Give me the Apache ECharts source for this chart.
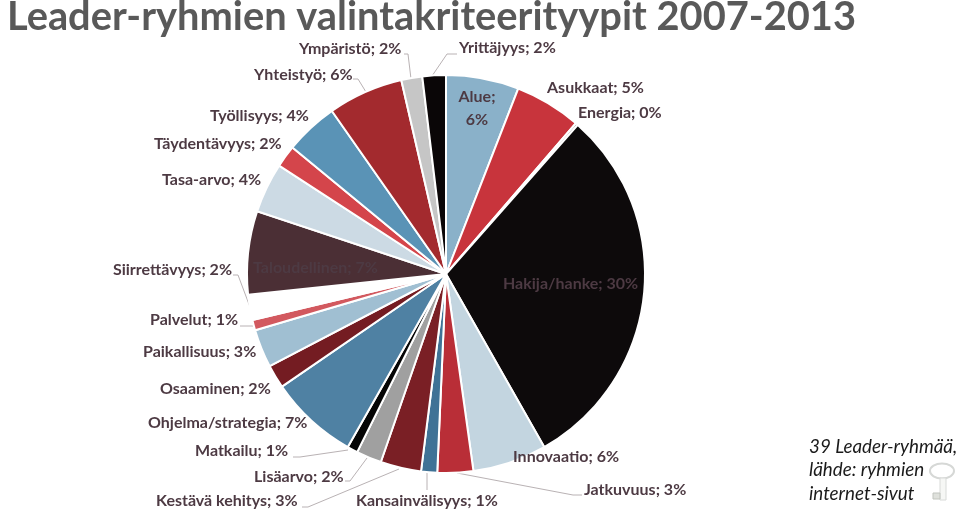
<!DOCTYPE html>
<html>
<head>
<meta charset="utf-8">
<style>
  html, body { margin: 0; padding: 0; background: #fff; }
  #chart { width: 959px; height: 513px; }
</style>
</head>
<body>
<div id="chart"></div>
<script src="https://cdn.jsdelivr.net/npm/echarts@6/dist/echarts.min.js"></script>
<script>
const categories = ['Alue', 'Asukkaat', 'Energia', 'Hakija/hanke', 'Innovaatio', 'Jatkuvuus', 'Kansainvälisyys', 'Kestävä kehitys', 'Lisäarvo', 'Matkailu', 'Ohjelma/strategia', 'Osaaminen', 'Paikallisuus', 'Palvelut', 'Siirrettävyys', 'Taloudellinen', 'Tasa-arvo', 'Täydentävyys', 'Työllisyys', 'Yhteistyö', 'Ympäristö', 'Yrittäjyys']
// slice shares
const values = [5.9, 5.4, 0.2, 30.2, 6.0, 2.9, 1.3, 3.3, 2.05, 0.85, 7.2, 1.9, 3.1, 0.85, 2.05, 6.75, 4.05, 1.8, 4.3, 6.1, 1.7, 1.9]
// percentages as printed in the labels
const shownPct = [6, 5, 0, 30, 6, 3, 1, 3, 2, 1, 7, 2, 3, 1, 2, 7, 4, 2, 4, 6, 2, 2]
const colors = ['#8ab1c9', '#c8343c', '#8a8a8a', '#0d0a0b', '#c3d5e0', '#b92e37', '#3f7296', '#7a1f25', '#a0a0a0', '#050505', '#4f81a3', '#741c22', '#a0bfd2', '#d2595f', '#ffffff', '#4b2f35', '#ccdae4', '#d4454b', '#5a93b6', '#a32a2e', '#c6c6c6', '#0a0607']

// label anchor: [x, y, align]
const labelSpots = [
  [477, 108, 'center'], [547, 88, 'left'], [578, 113, 'left'], [503, 284, 'left'],
  [513, 457, 'left'], [584, 490, 'left'], [356, 501, 'left'], [156, 501, 'left'],
  [254, 477, 'left'], [195, 451, 'left'], [148, 423, 'left'], [160, 389, 'left'],
  [143, 352, 'left'], [150, 320, 'left'], [113, 270, 'left'], [253, 268, 'left'],
  [162, 180, 'left'], [154, 144, 'left'], [210, 116, 'left'], [254, 75, 'left'],
  [299, 49, 'left'], [459, 48, 'left']
]
const leaderLines = {
  'Ympäristö': [[404, 54], [408, 54], [411, 79]],
  'Yrittäjyys': [[457, 54], [447, 54], [432, 76]],
  'Yhteistyö': [[353, 79], [358, 79], [366, 92]],
  'Siirrettävyys': [[233, 275], [238, 275], [250, 307]],
  'Palvelut': [[240, 326], [246, 326], [253, 326]],
  'Matkailu': [[293, 457], [300, 457], [348, 450]],
  'Lisäarvo': [[345, 481], [350, 481], [367, 458]],
  'Kestävä kehitys': [[302, 507], [308, 507], [399, 469]],
  'Kansainvälisyys': [[427, 490], [427, 480], [427, 473]],
  'Jatkuvuus': [[582, 495], [573, 495], [457, 473]]
}

const textColor = '#4d3a43'
const myChart = echarts.init(document.getElementById('chart'), null, { renderer: 'canvas' })

const option = {
  animation: false,
  backgroundColor: '#fff',
  title: {
    text: 'Leader-ryhmien valintakriteerityypit 2007-2013',
    left: 2,
    top: -8,
    textStyle: { fontFamily: 'Lato', fontWeight: 'bold', fontSize: 39.8, color: '#595959' },
  },
  series: [
    {
      type: 'pie',
      center: [446, 274],
      radius: 199,
      startAngle: 90,
      clockwise: true,
      avoidLabelOverlap: false,
      percentPrecision: 0,
      itemStyle: { borderColor: '#fff', borderWidth: 2 },
      label: {
        show: true,
        position: 'outside',
        fontFamily: 'Lato',
        fontWeight: 'bold',
        fontSize: 16,
        lineHeight: 23,
        color: textColor,
      },
      labelLine: {
        show: true,
        lineStyle: { color: '#b9b2b4', width: 1 },
      },
      labelLayout: (params) => {
        const spot = labelSpots[params.dataIndex]
        const name = categories[params.dataIndex]
        return {
          x: spot[0],
          y: spot[1],
          align: spot[2],
          verticalAlign: 'middle',
          labelLinePoints: leaderLines[name],
        }
      },
      data: categories.map((name, i) => ({
        name,
        value: values[i],
        itemStyle: { color: colors[i] },
        labelLine: { show: !!leaderLines[name] },
        label: {
          formatter: name === 'Alue' ? `${name};\n${shownPct[i]}%` : `${name}; ${shownPct[i]}%`,
        },
      })),
    },
  ],
  graphic: [
    {
      type: 'text',
      left: 809,
      top: 435,
      style: {
        text: '39 Leader-ryhmää,\nlähde: ryhmien\ninternet-sivut',
        fontFamily: 'Lato',
        fontStyle: 'italic',
        fontSize: 18.8,
        lineHeight: 23.5,
        fill: '#1a1a1a',
      },
    },
    // the small key next to the note
    {
      type: 'ellipse',
      shape: { cx: 942, cy: 471, rx: 12, ry: 7.5 },
      style: { fill: '#fff', stroke: '#d6d8d6', lineWidth: 2 },
    },
    {
      type: 'rect',
      shape: { x: 940, y: 478, width: 6, height: 22 },
      style: { fill: '#f6f7f5', stroke: '#d8dad8', lineWidth: 1 },
    },
    {
      type: 'rect',
      shape: { x: 933, y: 493, width: 7, height: 6 },
      style: { fill: '#dfe1dc', stroke: '#c2c5bf', lineWidth: 1 },
    },
  ],
}
myChart.setOption(option)
</script>
</body>
</html>
